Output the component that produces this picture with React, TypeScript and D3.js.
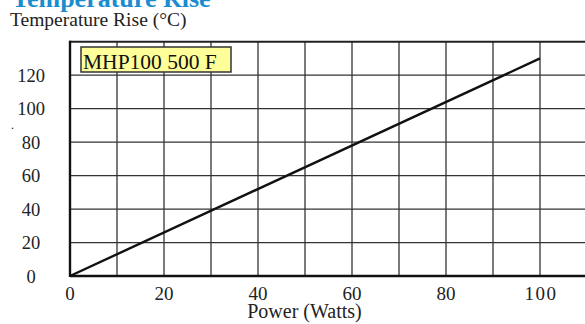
import React from "react";
import * as d3 from "d3";

const powerWatts = [0, 100];
const tempRise = [0, 130];
const xTicks = [0, 20, 40, 60, 80, 100];
const yTicks = [0, 20, 40, 60, 80, 100, 120];
const xGrid = [10, 20, 30, 40, 50, 60, 70, 80, 90, 100, 110];
const yGrid = [20, 40, 60, 80, 100, 120];
const legendLabel = "MHP100 500 F";
const title = "Temperature Rise";
const yTitle = "Temperature Rise (°C)";
const xTitle = "Power (Watts)";

export default function App() {
  const W = 585, H = 324;
  const x = d3.scaleLinear().domain([0, 100]).range([70, 540]);
  const y = d3.scaleLinear().domain([0, 140]).range([276, 41.7]);
  const pts = powerWatts.map((p, i) => [p, tempRise[i]] as [number, number]);
  const line = d3.line<[number, number]>().x(d => x(d[0])).y(d => y(d[1]));
  const font = "'Liberation Serif', 'Times New Roman', serif";
  const right = x(120);
  return (
    <svg width={W} height={H} style={{ position: "absolute", left: 0, top: 0 }} fontFamily={font}>
      <rect width={W} height={H} fill="#fff" />
      <text x={12} y={7} fontSize={26} fontWeight="bold" fill="#1a8dd0">{title}</text>
      <text x={10} y={26} fontSize={19.5} fill="#222">{yTitle}</text>
      <text x={11} y={129} fontSize={12} fill="#222">.</text>
      {xGrid.map(v => (
        <line key={"gx" + v} x1={x(v)} x2={x(v)} y1={y(140)} y2={y(0)} stroke="#222" strokeWidth={1.2} />
      ))}
      {yGrid.map(v => (
        <line key={"gy" + v} x1={x(0)} x2={right} y1={y(v)} y2={y(v)} stroke="#333" strokeWidth={1.2} />
      ))}
      <line x1={x(0)} x2={right} y1={y(140)} y2={y(140)} stroke="#222" strokeWidth={2} />
      <line x1={x(0)} x2={right} y1={y(0)} y2={y(0)} stroke="#111" strokeWidth={2.4} />
      <line x1={x(0)} x2={x(0)} y1={y(140) - 1} y2={y(0) + 1} stroke="#111" strokeWidth={2.4} />
      <path d={line(pts) || ""} fill="none" stroke="#111" strokeWidth={2.4} />
      <rect x={81} y={47} width={150} height={25} fill="#ffff99" stroke="#333" strokeWidth={1.5} />
      <text x={83} y={69} fontSize={21.5} fill="#111">{legendLabel}</text>
      {yTicks.map(v => (
        <text key={"yt" + v} x={31} y={y(v) + 6.5} fontSize={18.5} textAnchor="middle" fill="#222">{v}</text>
      ))}
      {xTicks.map(v => (
        <text key={"xt" + v} x={x(v) + (v >= 100 ? 1 : 0)} y={300} fontSize={19} textAnchor="middle" fill="#222"
          letterSpacing={v >= 100 ? 1.5 : 0}>{v}</text>
      ))}
      <text x={304.5} y={318} fontSize={20} textAnchor="middle" fill="#222">{xTitle}</text>
    </svg>
  );
}
